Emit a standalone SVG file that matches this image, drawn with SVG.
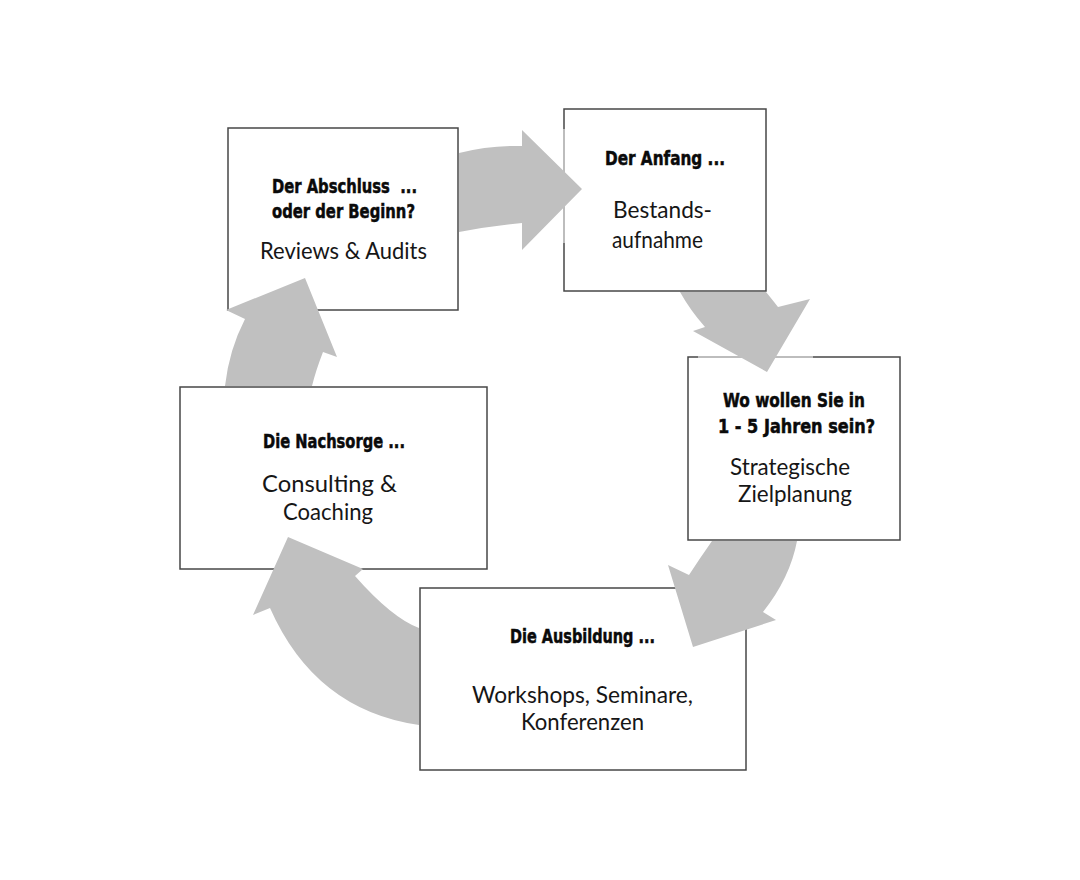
<svg xmlns="http://www.w3.org/2000/svg" width="1080" height="880" viewBox="0 0 1080 880">
<style>
.box{fill:#ffffff;stroke:#474747;stroke-width:1.5}
.faint{stroke:#d6d6d6;stroke-width:1.5}
.arrow{fill:#c0c0c0;stroke:none}
.h{font-family:"Liberation Sans Narrow","DejaVu Sans Condensed","Liberation Sans",sans-serif;font-weight:bold;font-size:20px;fill:#0a0a0a;stroke:#0a0a0a;stroke-width:0.5}
.b{font-family:Lato,"Open Sans","Liberation Sans",sans-serif;font-size:23px;fill:#161616}
</style>
<rect width="1080" height="880" fill="#ffffff"/>
<g id="node-abschluss">
<rect class="box" x="228" y="128" width="230" height="182"/>
<text class="h" x="272" y="193" textLength="145" lengthAdjust="spacingAndGlyphs" xml:space="preserve">Der Abschluss  ...</text>
<text class="h" x="272" y="218" textLength="143" lengthAdjust="spacingAndGlyphs">oder der Beginn?</text>
<text class="b" x="260" y="259" textLength="167" lengthAdjust="spacingAndGlyphs">Reviews &amp; Audits</text>
</g>
<g id="node-anfang">
<rect class="box" x="564" y="109" width="202" height="182"/>
<line class="faint" x1="564" y1="129" x2="564" y2="243"/>
<text class="h" x="605" y="165" textLength="120" lengthAdjust="spacingAndGlyphs">Der Anfang ...</text>
<text class="b" x="613" y="218" textLength="99" lengthAdjust="spacingAndGlyphs">Bestands-</text>
<text class="b" x="612" y="248" textLength="91" lengthAdjust="spacingAndGlyphs">aufnahme</text>
</g>
<g id="node-ziel">
<rect class="box" x="688" y="357" width="212" height="183"/>
<line class="faint" x1="698" y1="357" x2="813" y2="357"/>
<text class="h" x="723" y="407" textLength="142" lengthAdjust="spacingAndGlyphs">Wo wollen Sie in</text>
<text class="h" x="718" y="433" textLength="157" lengthAdjust="spacingAndGlyphs">1 - 5 Jahren sein?</text>
<text class="b" x="730" y="475" textLength="120" lengthAdjust="spacingAndGlyphs">Strategische</text>
<text class="b" x="738" y="502" textLength="114" lengthAdjust="spacingAndGlyphs">Zielplanung</text>
</g>
<g id="node-ausbildung">
<rect class="box" x="420" y="588" width="326" height="182"/>
<text class="h" x="510" y="643" textLength="145" lengthAdjust="spacingAndGlyphs">Die Ausbildung ...</text>
<text class="b" x="472" y="703" textLength="221" lengthAdjust="spacingAndGlyphs">Workshops, Seminare,</text>
<text class="b" x="521" y="730" textLength="123" lengthAdjust="spacingAndGlyphs">Konferenzen</text>
</g>
<g id="node-nachsorge">
<rect class="box" x="180" y="387" width="307" height="182"/>
<text class="h" x="263" y="448" textLength="142" lengthAdjust="spacingAndGlyphs">Die Nachsorge ...</text>
<text class="b" x="262" y="492" textLength="135" lengthAdjust="spacingAndGlyphs">Consulting &amp;</text>
<text class="b" x="283" y="520" textLength="90" lengthAdjust="spacingAndGlyphs">Coaching</text>
</g>
<g id="connectors">
<path class="arrow" d="M459,153 Q490,145 522,146 L522,130 L582,189 L522,250 L522,223 Q490,226 459,232 Z"/>
<path class="arrow" d="M680,292 Q690,310 705,327 L693,331 L767,372 L810,299 L778,307 Q771,298 766,292 Z"/>
<path class="arrow" d="M712,541 Q700,558 689,575 L668,565 L693,647 L776,620 L763,612 Q790,578 797,541 Z"/>
<path class="arrow" d="M419,628 Q392,618 355,576 L363,569 L288,537 L253,615 L270,608 Q315,710 419,725 Z"/>
<path class="arrow" d="M225,386 Q229,350 245,319 L226,310 L305,278 L337,357 L323,352 Q316,370 312,386 Z"/>
</g>
</svg>
